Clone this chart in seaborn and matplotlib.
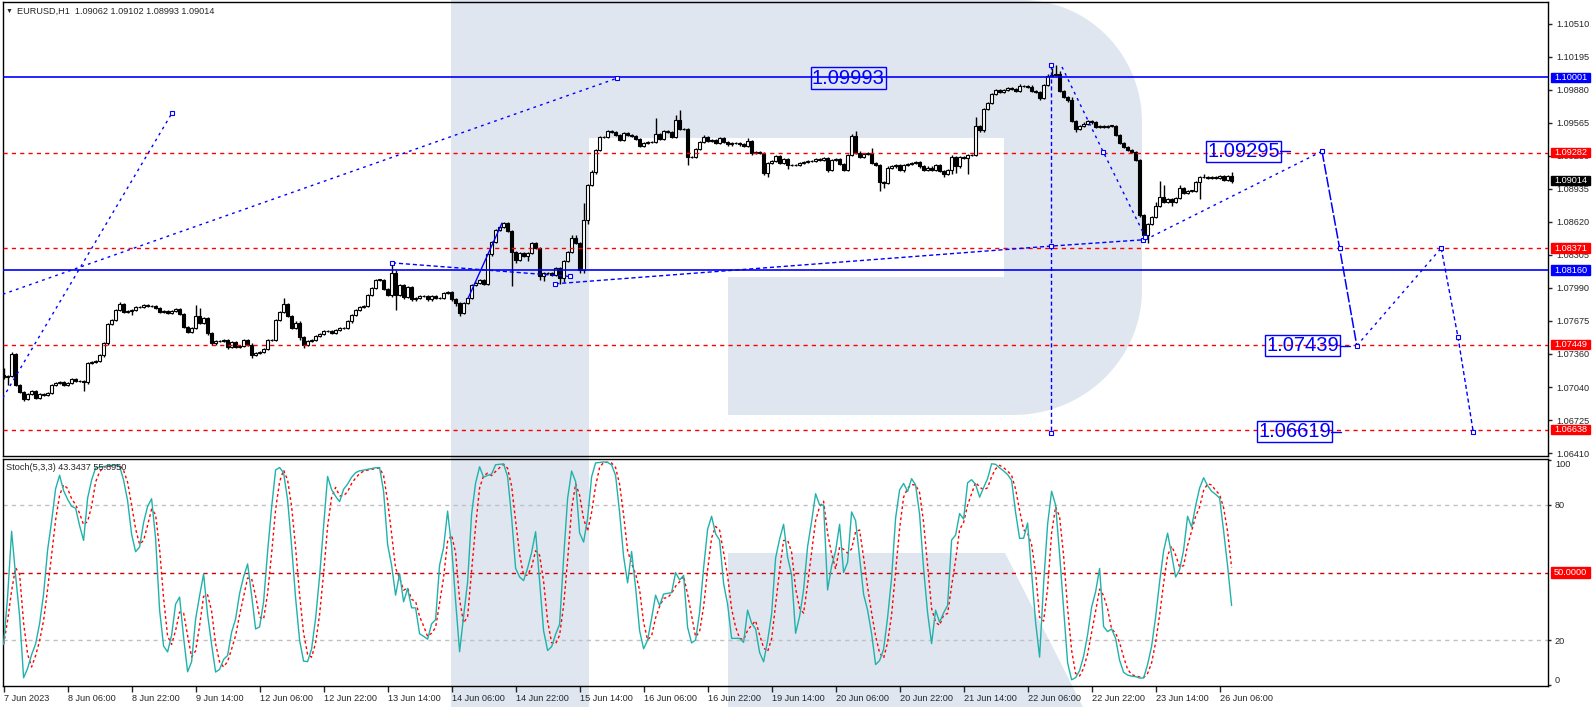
import numpy as np
import pandas as pd
import seaborn as sns
import matplotlib
matplotlib.use("Agg")
import matplotlib.pyplot as plt
from matplotlib.patches import Polygon, Rectangle

# EURUSD H1 closes, one per bar, 7 Jun 2023 14:00 ... 26 Jun 09:00
closes = [
    1.0714, 1.0715, 1.0736, 1.0706, 1.0700, 1.0693, 1.0698, 1.0701, 1.0694, 1.0698,
    1.0697, 1.0699, 1.0706, 1.0708, 1.0709, 1.0706, 1.0708, 1.0712, 1.0710, 1.0710,
    1.0709, 1.0727, 1.0728, 1.0729, 1.0735, 1.0746, 1.0765, 1.0768, 1.0778, 1.0784,
    1.0776, 1.0777, 1.0778, 1.0781, 1.0781, 1.0783, 1.0782, 1.0782, 1.0780, 1.0776,
    1.0777, 1.0775, 1.0777, 1.0779, 1.0774, 1.0762, 1.0757, 1.0761, 1.0772, 1.0766,
    1.0770, 1.0756, 1.0746, 1.0748, 1.0748, 1.0749, 1.0743, 1.0747, 1.0743, 1.0744,
    1.0749, 1.0745, 1.0735, 1.0737, 1.0738, 1.0741, 1.0749, 1.0749, 1.0768, 1.0776,
    1.0784, 1.0772, 1.0761, 1.0766, 1.0752, 1.0745, 1.0748, 1.0749, 1.0753, 1.0755,
    1.0758, 1.0758, 1.0756, 1.0759, 1.0761, 1.0761, 1.0767, 1.0773, 1.0778, 1.0781,
    1.0782, 1.0792, 1.0799, 1.0807, 1.0807, 1.0798, 1.0792, 1.0813, 1.0792, 1.0802,
    1.0790, 1.0800, 1.0788, 1.0789, 1.0791, 1.0791, 1.0788, 1.0791, 1.0789, 1.0789,
    1.0794, 1.0795, 1.0788, 1.0785, 1.0775, 1.0785, 1.0789, 1.0802, 1.0804, 1.0807,
    1.0803, 1.0831, 1.0843, 1.0854, 1.0857, 1.0861, 1.0853, 1.0833, 1.0826, 1.0832,
    1.0830, 1.0832, 1.0842, 1.0837, 1.0810, 1.0813, 1.0813, 1.0811, 1.0818, 1.0809,
    1.0825, 1.0833, 1.0847, 1.0842, 1.0816, 1.0864, 1.0897, 1.0910, 1.0931, 1.0943,
    1.0943, 1.0949, 1.0948, 1.0945, 1.0940, 1.0947, 1.0945, 1.0944, 1.0941, 1.0935,
    1.0937, 1.0938, 1.0938, 1.0946, 1.0941, 1.0949, 1.0948, 1.0943, 1.0959, 1.0951,
    1.0951, 1.0924, 1.0924, 1.0932, 1.0938, 1.0943, 1.0939, 1.0940, 1.0937, 1.0942,
    1.0938, 1.0936, 1.0937, 1.0937, 1.0936, 1.0935, 1.0939, 1.0928, 1.0929, 1.0928,
    1.0909, 1.0918, 1.0920, 1.0925, 1.0918, 1.0922, 1.0916, 1.0916, 1.0916, 1.0918,
    1.0919, 1.0920, 1.0920, 1.0922, 1.0921, 1.0923, 1.0912, 1.0921, 1.0922, 1.0917,
    1.0912, 1.0926, 1.0944, 1.0928, 1.0924, 1.0927, 1.0928, 1.0918, 1.0916, 1.0900,
    1.0899, 1.0914, 1.0915, 1.0916, 1.0912, 1.0916, 1.0917, 1.0918, 1.0919, 1.0915,
    1.0912, 1.0914, 1.0912, 1.0916, 1.0911, 1.0908, 1.0912, 1.0924, 1.0915, 1.0924,
    1.0923, 1.0926, 1.0926, 1.0954, 1.0950, 1.0970, 1.0976, 1.0984, 1.0988, 1.0986,
    1.0988, 1.0990, 1.0989, 1.0987, 1.0992, 1.0992, 1.0991, 1.0987, 1.0986, 1.0980,
    1.0993, 1.1001, 1.1002, 1.1003, 1.0987, 1.0981, 1.0978, 1.0958, 1.0951, 1.0954,
    1.0956, 1.0958, 1.0957, 1.0953, 1.0954, 1.0953, 1.0954, 1.0954, 1.0945, 1.0937,
    1.0934, 1.0931, 1.0929, 1.0921, 1.0869, 1.0850, 1.0860, 1.0867, 1.0877, 1.0886,
    1.0881, 1.0884, 1.0881, 1.0885, 1.0894, 1.0890, 1.0892, 1.0892, 1.0900, 1.0905,
    1.0905, 1.0904, 1.0905, 1.0904, 1.0906, 1.0902, 1.0906, 1.09014,
]
first_open = 1.0716
# wick lengths in pips beyond the body (bars not listed: 1 pip)
upper_wick = {0: 7, 2: 2, 29: 2, 48: 11, 49: 8, 70: 5, 97: 10, 98: 3, 142: 3, 143: 3,
              145: 16, 147: 2, 163: 15, 168: 5, 169: 10, 175: 2, 186: 3, 212: 2, 213: 5,
              214: 2, 217: 5, 237: 2, 243: 8, 254: 2, 257: 2, 261: 2, 262: 7, 263: 9,
              264: 3, 267: 3, 288: 4, 289: 15, 290: 11, 294: 3, 300: 3, 307: 4}
lower_wick = {0: 2, 1: 8, 5: 2, 20: 8, 21: 2, 25: 2, 32: 4, 51: 2, 56: 2, 62: 3,
              74: 3, 75: 3, 97: 2, 98: 14, 100: 2, 113: 3, 114: 3, 127: 32, 128: 3,
              131: 5, 134: 3, 135: 4, 139: 6, 140: 4, 144: 3, 145: 3, 146: 4, 148: 2,
              171: 8, 187: 2, 190: 2, 191: 4, 196: 3, 206: 2, 219: 8, 220: 5, 225: 2,
              235: 3, 237: 4, 238: 6, 241: 15, 244: 2, 245: 2, 259: 2, 268: 3, 284: 2,
              285: 3, 286: 8, 292: 4, 299: 16, 307: 2}

price_ticks = [1.10510, 1.10195, 1.09880, 1.09565, 1.09250, 1.08935, 1.08620,
               1.08305, 1.07990, 1.07675, 1.07360, 1.07040, 1.06725, 1.06410]
time_labels = ['7 Jun 2023', '8 Jun 06:00', '8 Jun 22:00', '9 Jun 14:00', '12 Jun 06:00',
               '12 Jun 22:00', '13 Jun 14:00', '14 Jun 06:00', '14 Jun 22:00', '15 Jun 14:00',
               '16 Jun 06:00', '16 Jun 22:00', '19 Jun 14:00', '20 Jun 06:00', '20 Jun 22:00',
               '21 Jun 14:00', '22 Jun 06:00', '22 Jun 22:00', '23 Jun 14:00', '26 Jun 06:00']
blue_levels = [1.10001, 1.08160]
red_levels = [1.09282, 1.08371, 1.07449, 1.06638]
last_close = 1.09014
stoch_ticks = [0, 20, 80, 100]

# analysis drawings as (bar index, price) anchor points
trend_a = ([-0.2, 42.1], [1.0694, 1.0966])
trend_b = ([-0.2, 153.4], [1.0793, 1.09993])
trend_c = ([97.1, 141.6], [1.0823, 1.0810])
trend_d = ([137.9, 261.9, 284.9], [1.0803, 1.0839, 1.0845])
trend_g = ([116.1, 124.6], [1.0789, 1.0861])
wave_e = ([264.6, 274.9, 285.4], [1.1010, 1.0929, 1.0848])
vline_f = ([261.9, 261.9], [1.1012, 1.0661])
fc_up = ([285.4, 329.6], [1.0845, 1.09295])
fc_down1 = ([329.6, 334.0, 338.3], [1.09295, 1.08371, 1.07439])
fc_up2 = ([338.3, 359.4], [1.07439, 1.08371])
fc_down2 = ([359.4, 363.6, 367.4], [1.08371, 1.0752, 1.06619])
targets = [('1.09993', 211.2, 1.09993, None),
           ('1.09295', 310.0, 1.09295, (319.2, 321.7)),
           ('1.07439', 324.8, 1.07439, (334.1, 336.6)),
           ('1.06619', 322.7, 1.06619, (331.9, 334.4))]

# candle arrays
c = np.array(closes)
o = np.array([first_open] + closes[:-1])
n = len(c)
up = np.array([upper_wick.get(i, 1) for i in range(n)]) * 0.0001
dn = np.array([lower_wick.get(i, 1) for i in range(n)]) * 0.0001
hi = np.maximum(o, c) + up
lo = np.minimum(o, c) - dn
bars = np.arange(n)

# Stochastic(5,3,3)
df = pd.DataFrame({'bar': bars, 'high': hi, 'low': lo, 'close': c})
ll = df['low'].rolling(5, min_periods=1).min()
hh = df['high'].rolling(5, min_periods=1).max()
num = (df['close'] - ll).rolling(3, min_periods=1).sum()
den = (hh - ll).rolling(3, min_periods=1).sum()
df['k'] = 100 * num / den
df['d'] = df['k'].rolling(3, min_periods=1).mean()

sns.set_style('white')
plt.rcParams['font.family'] = ['Liberation Sans', 'DejaVu Sans']
FS = 6.6
BLUE = '#0000ff'
RED = '#ff0000'

W, H = 1594, 707
fig = plt.figure(figsize=(W / 100, H / 100), dpi=100)
fig.patch.set_facecolor('white')


def px_box(x0, y0, x1, y1):
    return [x0 / W, 1 - y1 / H, (x1 - x0) / W, (y1 - y0) / H]


# watermark logo behind both panes
bg = fig.add_axes([0, 0, 1, 1], zorder=-5)
bg.set_xlim(0, W)
bg.set_ylim(H, 0)
bg.axis('off')
wm = '#dfe6ef'
bg.add_patch(Rectangle((451, 0), 138, H, color=wm, lw=0))
t1 = np.linspace(np.pi / 2, 0, 30)
t2 = np.linspace(0, -np.pi / 2, 30)
bowl = [(589, 0)]
bowl += list(zip(1022 + 120 * np.cos(t1), 122 - 122 * np.sin(t1)))
bowl += list(zip(1013 + 129 * np.cos(t2), 290 - 125 * np.sin(t2)))
bowl += [(728, 415), (728, 277), (1004, 277), (1004, 138), (589, 138)]
bg.add_patch(Polygon(bowl, closed=True, color=wm, lw=0))
bg.add_patch(Polygon([(728, 553), (1005, 553), (1083, H), (728, H)], closed=True, color=wm, lw=0))

ax = fig.add_axes(px_box(3, 2, 1548, 456))
ax2 = fig.add_axes(px_box(3, 459, 1548, 686))
for a in (ax, ax2):
    a.set_facecolor('none')
    a.set_xlim(-0.15, 386.1)
    for s in a.spines.values():
        s.set_color('black')
        s.set_linewidth(1)

ax.set_ylim(1.06386, 1.10720)
ax2.set_ylim(-0.3, 100.4)

# candles
colors = np.where(c >= o, 'white', 'black')
ax.vlines(bars, lo, hi, color='black', lw=1, zorder=2)
ax.bar(bars, np.maximum(np.abs(c - o), 0.000015), bottom=np.minimum(o, c), width=0.62,
       color=colors, edgecolor='black', linewidth=0.8, zorder=3)

for lv in blue_levels:
    ax.axhline(lv, color=BLUE, lw=1.2, zorder=4)
for lv in red_levels:
    ax.axhline(lv, color=RED, lw=1, ls=(0, (3, 3)), zorder=4)

dot = (0, (2, 3))
dash = (0, (3, 2))
mk = dict(marker='s', ms=3.5, mfc='white', mec=BLUE, mew=0.8)
ax.plot(*trend_a, color=BLUE, lw=1, ls=dot, zorder=5)
ax.plot(trend_a[0][-1], trend_a[1][-1], zorder=6, **mk)
ax.plot(*trend_b, color=BLUE, lw=1, ls=dot, zorder=5)
ax.plot(trend_b[0][-1], trend_b[1][-1], zorder=6, **mk)
ax.plot(*trend_c, color=BLUE, lw=1, ls=dash, zorder=5)
ax.plot(*trend_c, ls='none', zorder=6, **mk)
ax.plot(*trend_d, color=BLUE, lw=1, ls=dash, zorder=5)
ax.plot(*trend_d, ls='none', zorder=6, **mk)
ax.plot(*trend_g, color=BLUE, lw=1, zorder=5)
ax.plot(*wave_e, color=BLUE, lw=1, ls=dot, zorder=5)
ax.plot(wave_e[0][1:], wave_e[1][1:], ls='none', zorder=6, **mk)
ax.plot(*vline_f, color=BLUE, lw=1, ls=dash, zorder=5)
ax.plot(*vline_f, ls='none', zorder=6, **mk)
ax.plot(*fc_up, color=BLUE, lw=1, ls=dot, zorder=5)
ax.plot(*fc_down1, color=BLUE, lw=1.1, ls=(0, (7, 1.5)), zorder=5)
ax.plot(*fc_up2, color=BLUE, lw=1, ls=dot, zorder=5)
ax.plot(*fc_down2, color=BLUE, lw=1, ls=dash, zorder=5)
for seg in (fc_up, fc_down1, fc_up2, fc_down2):
    ax.plot(seg[0][1:], seg[1][1:], ls='none', zorder=6, **mk)

for label, xb, yp, tail in targets:
    ax.text(xb, yp, label, ha='center', va='center', fontsize=14.5, color=BLUE, zorder=7,
            bbox=dict(boxstyle='square,pad=0.06', fc='none', ec=BLUE, lw=1))
    if tail:
        ax.plot(tail, [yp, yp], color=BLUE, lw=1, zorder=6)

# price axis on the right
ax.set_xticks([])
ax.yaxis.tick_right()
ax.set_yticks(price_ticks)
ax.set_yticklabels([f'{v:.5f}' for v in price_ticks])
ax.tick_params(axis='y', direction='out', length=3, width=1, pad=3, labelsize=FS,
               right=True, left=False, labelright=True, labelleft=False)

ytr = ax.get_yaxis_transform()
bx0 = (1551 - 3) / 1545
bw = 39 / 1545
box_h = 9.5 / 10476
price_boxes = [(1.10001, BLUE), (red_levels[0], RED), (last_close, 'black'),
               (red_levels[1], RED), (blue_levels[1], BLUE), (red_levels[2], RED),
               (red_levels[3], RED)]
for v, col in price_boxes:
    ax.add_patch(Rectangle((bx0, v - box_h / 2), bw, box_h, transform=ytr, color=col,
                           clip_on=False, zorder=8))
    ax.text(bx0 + bw / 2, v, f'{v:.5f}', transform=ytr, ha='center', va='center',
            color='white', fontsize=FS, clip_on=False, zorder=9)

# stochastic pane
ax2.axhline(80, color='#c0c0c0', lw=1, ls=(0, (3, 3)), zorder=1)
ax2.axhline(20, color='#c0c0c0', lw=1, ls=(0, (3, 3)), zorder=1)
ax2.axhline(50, color='#d00000', lw=1, ls=(0, (3, 3)), zorder=1)
sns.lineplot(data=df, x='bar', y='k', ax=ax2, color='#20b2aa', lw=1, zorder=3)
sns.lineplot(data=df, x='bar', y='d', ax=ax2, color=RED, lw=1, ls=(0, (2, 2)), zorder=2)
ax2.set_xlabel('')
ax2.set_ylabel('')
ax2.yaxis.tick_right()
ax2.set_yticks(stoch_ticks)
ax2.set_yticklabels([str(v) for v in stoch_ticks])
ax2.tick_params(axis='y', direction='out', length=2, width=1, pad=3, labelsize=FS,
                right=True, left=False, labelright=True, labelleft=False)
for lbl, v in zip(ax2.get_yticklabels(), stoch_ticks):
    if v == 100:
        lbl.set_va('top')
    elif v == 0:
        lbl.set_va('bottom')
ytr2 = ax2.get_yaxis_transform()
ax2.add_patch(Rectangle((bx0, 50 - 2.3), bw, 4.6, transform=ytr2, color=RED,
                        clip_on=False, zorder=8))
ax2.text(bx0 + bw / 2, 50, '50.0000', transform=ytr2, ha='center', va='center',
         color='white', fontsize=FS, clip_on=False, zorder=9)

ax2.set_xticks(np.arange(len(time_labels)) * 16)
ax2.set_xticklabels(time_labels)
ax2.tick_params(axis='x', direction='out', length=4, width=1, pad=2, labelsize=FS,
                bottom=True)
for lbl in ax2.get_xticklabels():
    lbl.set_ha('left')

fig.text(6 / W, 1 - 11 / H, '\u25bc', fontsize=5, va='center', ha='left')
fig.text(17 / W, 1 - 11 / H, 'EURUSD,H1  1.09062 1.09102 1.08993 1.09014',
         fontsize=FS, va='center', ha='left')
fig.text(6 / W, 1 - 467 / H, 'Stoch(5,3,3) 43.3437 55.8950',
         fontsize=FS, va='center', ha='left')

fig.savefig('out.png', dpi=100, facecolor='white')
